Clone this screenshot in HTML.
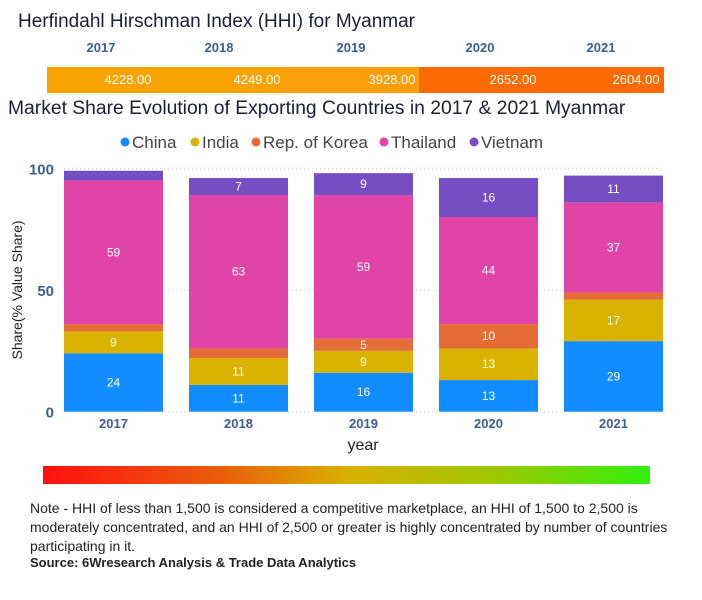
<!DOCTYPE html>
<html><head><meta charset="utf-8"><style>
body{margin:0;width:702px;height:600px;background:#fff;font-family:"Liberation Sans",sans-serif;overflow:hidden;position:relative}
.abs{position:absolute;white-space:nowrap}
</style></head><body>
<div class="abs" style="left:18px;top:11px;font-size:19px;color:#1a1f36">Herfindahl Hirschman Index (HHI) for Myanmar</div>
<div id="hhi"></div>
<div class="abs" style="left:8px;top:98px;font-size:19.3px;color:#1a1f36">Market Share Evolution of Exporting Countries in 2017 &amp; 2021 Myanmar</div>
<svg id="chart" width="702" height="460" style="position:absolute;left:0;top:0"></svg>
<div class="abs" style="left:43px;top:466px;width:607px;height:18px;background:linear-gradient(to right,#ff1010,#e8600a 30%,#d9b000 50%,#9cc800 75%,#33ee10)"></div>
<div class="abs" style="left:30px;top:499px;font-size:14px;line-height:19px;color:#222;white-space:normal;width:665px">Note - HHI of less than 1,500 is considered a competitive marketplace, an HHI of 1,500 to 2,500 is moderately concentrated, and an HHI of 2,500 or greater is highly concentrated by number of countries participating in it.</div>
<div class="abs" style="left:30px;top:555px;font-size:13px;font-weight:bold;color:#222">Source: 6Wresearch Analysis &amp; Trade Data Analytics</div>
<script>
const years=["2017","2018","2019","2020","2021"];
const hhiValues=[4228,4249,3928,2652,2604];
const series=["China","India","Rep. of Korea","Thailand","Vietnam"];
const china=[24,11,16,13,29];
const india=[9,11,9,13,17];
const korea=[3,4,5,10,3];
const thailand=[59,63,59,44,37];
const vietnam=[4,7,9,16,11];
const yTicks=[0,50,100];

const colors=["#118DFF","#D9B300","#E66C37","#E044A7","#744EC2"];
const NS="http://www.w3.org/2000/svg";
// HHI strip layout (cell edges)
const hEdges=[47,155,284,419,540,663];
const hLabelX=[101,219,351,480,601];
const hhi=document.getElementById('hhi');
years.forEach((y,i)=>{
  const lab=document.createElement('div');lab.className='abs';
  
  
  lab.style.cssText=`left:${hLabelX[i]-50}px;width:100px;text-align:center;top:40px;font-size:13px;font-weight:bold;color:#3c5f8f`;
  lab.textContent=y;hhi.appendChild(lab);
  const c=document.createElement('div');c.className='abs';
  
  
  const v=hhiValues[i];
  const col=v>=4000?'#FAA300':v>=3000?'#FC9E0C':'#FF6A00';
  c.style.cssText=`left:${hEdges[i]}px;width:${hEdges[i+1]-hEdges[i]+0.5}px;top:67px;height:26px;background:${col};color:#fff;font-size:13px;text-align:right;line-height:26px;box-sizing:border-box;padding-right:4px`;
  c.textContent=v.toFixed(2);hhi.appendChild(c);
});
// chart
const svg=document.getElementById('chart');
const px0=64,px1=663,yBase=411.7,yTop=168.3,bw=99;
const step=(px1-px0-bw)/(years.length-1);
const ys=v=>yBase-(yBase-yTop)*v/100;
const xs=i=>px0+i*step;
function el(t,a,txt){const e=document.createElementNS(NS,t);for(const k in a)e.setAttribute(k,a[k]);if(txt!==undefined)e.textContent=txt;svg.appendChild(e);return e;}
yTicks.forEach(t=>{
  const g=el('line',{x1:px0,x2:px1,y1:ys(t),y2:ys(t),stroke:'#ccc','stroke-dasharray':'1,3'});
  
  
  const l=el('text',{x:54,y:ys(t)+6,'text-anchor':'end','font-size':15,'font-weight':'bold',fill:'#3c5f8f'},t);
  
  
});
const data=[china,india,korea,thailand,vietnam];
years.forEach((y,i)=>{
  let acc=0;
  data.forEach((s,k)=>{
    const v=s[i];
    const r=el('rect',{x:xs(i),width:bw,y:ys(acc+v),height:ys(acc)-ys(acc+v),fill:colors[k]});
    
    
    if(v>=5){
      const t=el('text',{x:xs(i)+bw/2,y:ys(acc+v/2)+4,'text-anchor':'middle','font-size':12,fill:'#fff'},v);
      
      
    }
    acc+=v;
  });
  const xl=el('text',{x:xs(i)+bw/2,y:428,'text-anchor':'middle','font-size':13,'font-weight':'bold',fill:'#3c5f8f'},y);
  
  
});
const yt=el('text',{x:0,y:0,transform:'translate(22,290) rotate(-90)','text-anchor':'middle','font-size':14,fill:'#222'},'Share(% Value Share)');


const xt=el('text',{x:363,y:450,'text-anchor':'middle','font-size':16,fill:'#222'},'year');


const lx=[125,195,256,384,474];
series.forEach((s,k)=>{
  const c=el('circle',{cx:lx[k],cy:142,r:4.5,fill:colors[k]});
  
  
  const t=el('text',{x:lx[k]+7,y:148,'font-size':17,fill:'#444'},s);
  
  
});
</script>
</body></html>
